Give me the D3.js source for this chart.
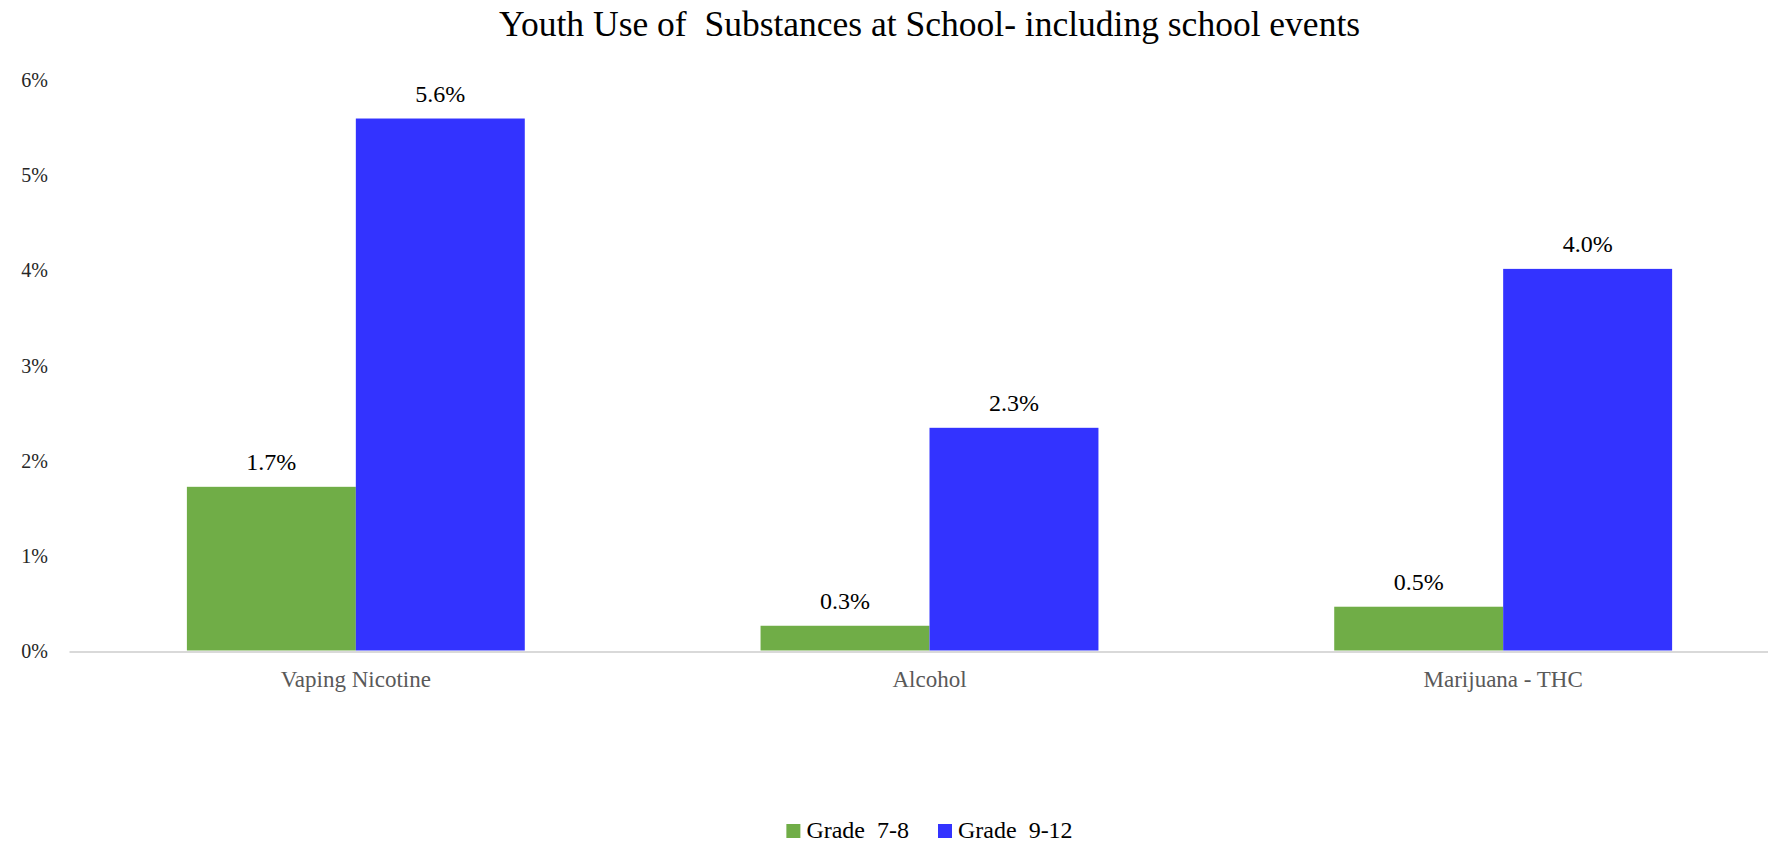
<!DOCTYPE html>
<html>
<head>
<meta charset="utf-8">
<script src="https://cdn.jsdelivr.net/npm/d3@7"></script>
<style>
  html, body { margin: 0; padding: 0; background: #fff; }
  svg { display: block; }
  svg text { font-family: "Liberation Serif", "DejaVu Serif", serif !important; }
</style>
</head>
<body>
<svg id="chart" width="1768" height="843"></svg>
<script>
// ---- Data ----
const categories = ["Vaping Nicotine", "Alcohol", "Marijuana - THC"];
const seriesNames = ["Grade  7-8", "Grade  9-12"];
const grade78 = [1.72, 0.26, 0.46];
const grade912 = [5.59, 2.34, 4.01];
const yTicks = [0, 1, 2, 3, 4, 5, 6];
const titleText = "Youth Use of  Substances at School- including school events";
const colors = ["#70AD47", "#3333FF"];

// ---- Layout ----
const plot = { left: 69, right: 1790, top: 79.5, bottom: 650.5 };

const svg = d3.select("#chart");

const x0 = d3.scaleBand()
  .domain(categories)
  .range([plot.left, plot.right])
  .paddingInner(0.411)
  .paddingOuter(0.2055);

const x1 = d3.scaleBand()
  .domain([0, 1])
  .range([0, x0.bandwidth()]);

const y = d3.scaleLinear()
  .domain([0, 6])
  .range([plot.bottom, plot.top]);

const rows = categories.map((c, i) => ({ cat: c, vals: [grade78[i], grade912[i]] }));

// Title
svg.append("text")
  .attr("x", (plot.left + plot.right) / 2)
  .attr("y", 36)
  .attr("text-anchor", "middle")
  .attr("font-size", 35.5)
  .attr("fill", "#000")
  .style("white-space", "pre")
  .text(titleText);

// Y axis (labels only)
const yAxis = d3.axisLeft(y)
  .tickValues(yTicks)
  .tickSize(0)
  .tickPadding(0)
  .tickFormat(d => d + "%");
const gy = svg.append("g")
  .attr("transform", `translate(48,0)`)
  .call(yAxis);
gy.select(".domain").remove();
gy.selectAll("text")
  .attr("font-size", 20)
  .attr("fill", "#262626")
  .attr("dy", "0.35em");

// Bars
const groups = svg.append("g")
  .selectAll("g")
  .data(rows)
  .join("g")
  .attr("transform", d => `translate(${x0(d.cat)},0)`);

groups.selectAll("rect")
  .data(d => d.vals.map((v, k) => ({ v, k })))
  .join("rect")
  .attr("x", d => x1(d.k))
  .attr("width", x1.bandwidth())
  .attr("y", d => y(d.v))
  .attr("height", d => y(0) - y(d.v))
  .attr("fill", d => colors[d.k]);

groups.selectAll("text.lbl")
  .data(d => d.vals.map((v, k) => ({ v, k })))
  .join("text")
  .attr("class", "lbl")
  .attr("x", d => x1(d.k) + x1.bandwidth() / 2)
  .attr("y", d => y(d.v) - 17)
  .attr("text-anchor", "middle")
  .attr("font-size", 24)
  .attr("fill", "#000")
  .text(d => d.v.toFixed(1) + "%");

// X axis
const xAxis = d3.axisBottom(x0).tickSize(0).tickSizeOuter(0).tickPadding(0);
const gx = svg.append("g")
  .attr("transform", `translate(0,${plot.bottom + 1})`)
  .call(xAxis);
gx.select(".domain")
  .attr("stroke", "#d9d9d9")
  .attr("stroke-width", 2);
gx.selectAll("text")
  .attr("font-size", 23)
  .attr("fill", "#595959")
  .attr("dy", 0)
  .attr("y", 35);

// Legend
const legend = svg.append("g");
const items = legend.selectAll("g")
  .data(seriesNames)
  .join("g");
items.append("rect")
  .attr("width", 14)
  .attr("height", 14)
  .attr("y", 824)
  .attr("fill", (d, i) => colors[i]);
items.append("text")
  .attr("x", 20)
  .attr("y", 838)
  .attr("font-size", 24)
  .attr("fill", "#000")
  .style("white-space", "pre")
  .text(d => d);
const widths = [];
items.each(function () {
  widths.push(20 + this.querySelector("text").getComputedTextLength());
});
const total = widths.reduce((a, b) => a + b, 0) + 29 * (widths.length - 1);
let start = (plot.left + plot.right) / 2 - total / 2;
items.attr("transform", (d, i) => {
  const t = `translate(${start},0)`;
  start += widths[i] + 29;
  return t;
});
</script>
</body>
</html>
